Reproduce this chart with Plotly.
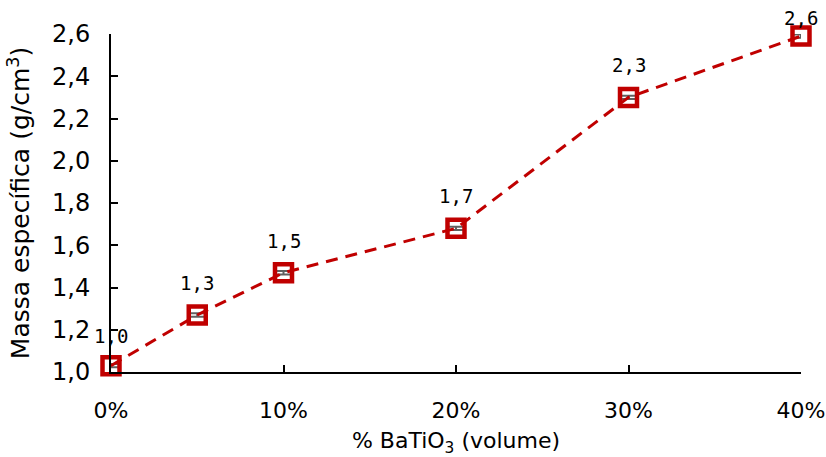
import plotly.graph_objects as go

x_vals = [0, 5, 10, 20, 30, 40]
y_vals = [1.03, 1.27, 1.47, 1.68, 2.30, 2.59]
y_err = [0.008, 0.008, 0.008, 0.008, 0.008, 0.008]
labels = ["1,0", "1,3", "1,5", "1,7", "2,3", "2,6"]
label_shift = [30, 32, 32, 32, 32, 18]
x_ticks = [0, 10, 20, 30, 40]
x_ticktext = ["0%", "10%", "20%", "30%", "40%"]
y_ticks = [1.0, 1.2, 1.4, 1.6, 1.8, 2.0, 2.2, 2.4, 2.6]

red = "#C00000"
fig = go.Figure()
fig.add_trace(go.Scatter(
    x=x_vals, y=y_vals, mode="lines+markers",
    line=dict(color=red, width=3, dash="12px,8px"),
    marker=dict(symbol="square-open", size=17, color=red, line=dict(width=4.5, color=red)),
    error_y=dict(type="data", array=y_err, color="#606060", thickness=2, width=7),
    cliponaxis=False, showlegend=False,
))
for xv, yv, t, s in zip(x_vals, y_vals, labels, label_shift):
    fig.add_annotation(x=xv, y=yv, text=t, showarrow=False, yshift=s,
                       font=dict(family="DejaVu Sans Mono", size=19, color="black"))

fig.update_layout(
    width=826, height=457, paper_bgcolor="white", plot_bgcolor="white",
    margin=dict(l=111, r=25, t=34, b=85),
    separators=",.",
    font=dict(family="DejaVu Sans", color="black"),
)
fig.update_xaxes(range=[0, 40], tickvals=x_ticks, ticktext=x_ticktext, automargin=False,
                 showline=True, linecolor="black", linewidth=2, ticks="inside", ticklen=7,
                 tickcolor="black", tickwidth=2, showgrid=False, zeroline=False,
                 tickfont=dict(size=22), ticklabelstandoff=18,
                 title=dict(text="% BaTiO<sub>3</sub> (volume)", font=dict(size=22)))
fig.update_yaxes(range=[1.0, 2.6], tickvals=y_ticks, tickformat=".1f", automargin=False,
                 showline=True, linecolor="black", linewidth=2, ticks="inside", ticklen=7,
                 tickcolor="black", tickwidth=2, showgrid=False, zeroline=False,
                 tickfont=dict(size=24), ticklabelstandoff=14,
                 title=dict(text="Massa específica (g/cm<sup>3</sup>)", font=dict(size=25)))
fig.write_html("out.html")
